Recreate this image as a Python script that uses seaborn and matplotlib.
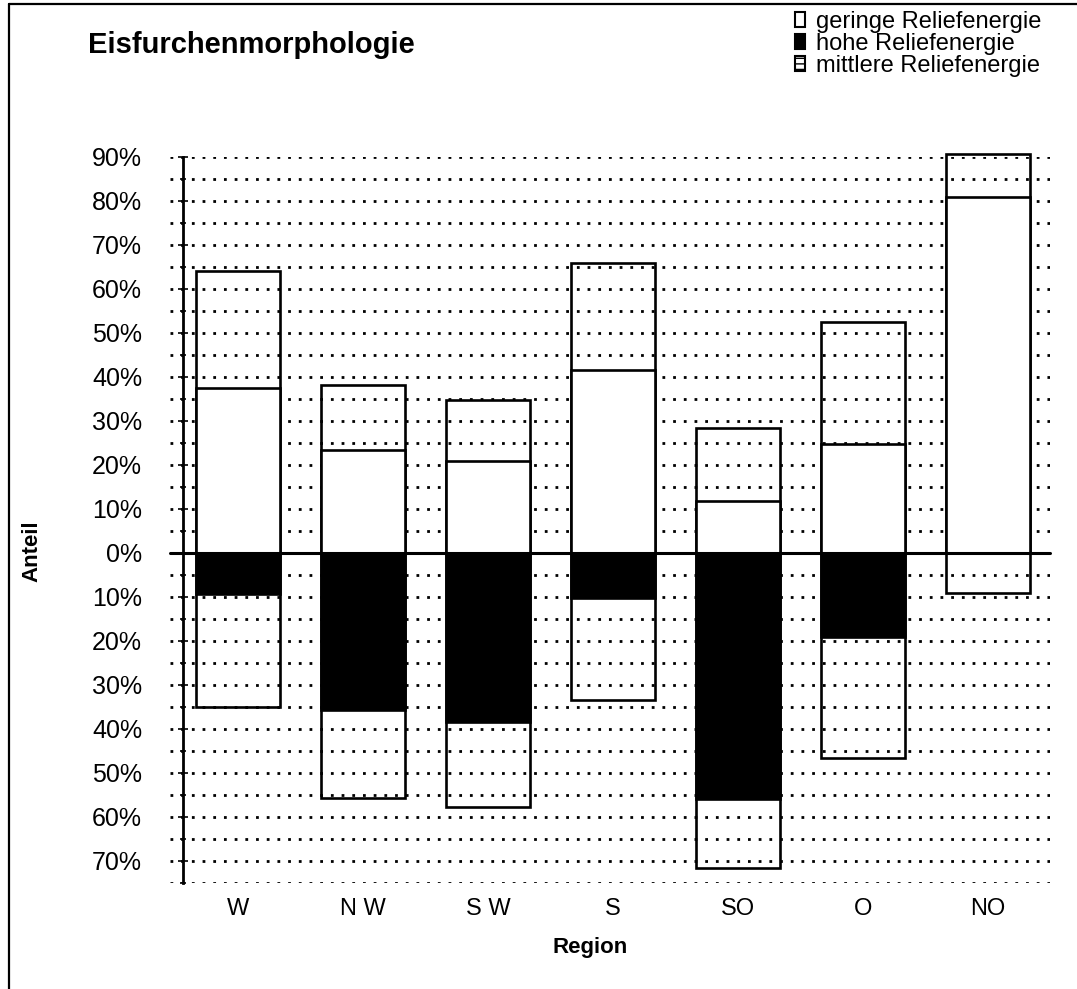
import numpy as np
import pandas as pd
import matplotlib
matplotlib.use("Agg")
import matplotlib.pyplot as plt
import seaborn as sns
from matplotlib.patches import Patch
from matplotlib.lines import Line2D
from matplotlib.ticker import MultipleLocator, FuncFormatter

# Anteile je Region (in %)
regionen = ["W", "N W", "S W", "S", "SO", "O", "NO"]
geringe = [37.6, 23.5, 20.8, 41.5, 11.9, 24.7, 80.8]
hohe = [9.4, 35.6, 38.3, 10.3, 56.0, 19.2, 0.0]
# mittlere Reliefenergie: Anteil oberhalb bzw. unterhalb der Nulllinie
mittlere_oben = [26.6, 14.6, 13.9, 24.3, 16.4, 27.7, 9.8]
mittlere_unten = [25.5, 20.0, 19.5, 23.2, 15.5, 27.3, 9.0]

df = pd.DataFrame({"Region": regionen, "geringe": geringe, "hohe": hohe,
                   "m_oben": mittlere_oben, "m_unten": mittlere_unten})
df["oben"] = df["geringe"] + df["m_oben"]
df["unten"] = -(df["hohe"] + df["m_unten"])
df["hohe_neg"] = -df["hohe"]

sns.set_theme(style="white")
plt.rcParams["font.family"] = ["Liberation Sans", "DejaVu Sans"]
plt.rcParams["lines.scale_dashes"] = False
plt.rcParams["text.color"] = "black"
plt.rcParams["axes.labelcolor"] = "black"
plt.rcParams["xtick.color"] = "black"
plt.rcParams["ytick.color"] = "black"

W, H = 1077, 989
fig = plt.figure(figsize=(W / 100, H / 100), dpi=100)
fig.patch.set_facecolor("white")
ax = fig.add_axes([170 / W, (H - 883) / H, 880 / W, 726 / H])
ax.set_facecolor("white")

bar_w = 0.67
lw = 1.9
# Umrisse der Gesamtbalken (mittlere Reliefenergie ohne Füllung)
sns.barplot(data=df, x="Region", y="oben", color="black", fill=False,
            width=bar_w, linewidth=lw, ax=ax)
sns.barplot(data=df, x="Region", y="unten", color="black", fill=False,
            width=bar_w, linewidth=lw, ax=ax)
# geringe (weiß) und hohe (schwarz) Reliefenergie
sns.barplot(data=df, x="Region", y="geringe", color="white", edgecolor="black",
            saturation=1, width=bar_w, linewidth=lw, ax=ax)
sns.barplot(data=df, x="Region", y="hohe_neg", color="black", edgecolor="black",
            saturation=1, width=bar_w, linewidth=lw, ax=ax)
for p in ax.patches:
    p.set_clip_on(False)

ax.set_xlim(-0.544, 6.496)
ax.set_ylim(-75, 90)
ax.axhline(0, color="black", lw=2.2, zorder=5, clip_on=False)

# gepunktete Gitterlinien alle 5 %
ax.yaxis.set_major_locator(MultipleLocator(10))
ax.yaxis.set_minor_locator(MultipleLocator(5))
ax.set_axisbelow(True)
ax.grid(axis="y", which="both", color="black", linewidth=2.0,
        linestyle=(0, (2.0, 5.7)))
ax.grid(axis="x", visible=False)

ax.yaxis.set_major_formatter(FuncFormatter(lambda v, _: f"{abs(v):.0f}%"))

for s in ["top", "right", "bottom"]:
    ax.spines[s].set_visible(False)
ax.spines["left"].set_position(("data", -0.44))
ax.spines["left"].set_color("black")
ax.spines["left"].set_linewidth(2.0)

ax.tick_params(axis="y", which="both", direction="inout", left=True,
               color="black", width=1.2, labelsize=18, pad=26, labelcolor="black")
ax.tick_params(axis="y", which="major", length=7)
ax.tick_params(axis="y", which="minor", length=5)
ax.tick_params(axis="x", bottom=False, labelsize=17, pad=5, labelcolor="black")

ax.set_xlabel("")
ax.set_ylabel("")
fig.text(590 / W, 1 - 948 / H, "Region", ha="center", va="center",
         fontsize=16, fontweight="bold", color="black")
fig.text(32 / W, 1 - 551 / H, "Anteil", ha="center", va="center",
         rotation=90, fontsize=16, fontweight="bold", color="black")
fig.text(88 / W, 1 - 45 / H, "Eisfurchenmorphologie", ha="left", va="center",
         fontsize=21, fontweight="bold", color="black")

handles = [
    Patch(facecolor="white", edgecolor="black", linewidth=1.5),
    Patch(facecolor="black", edgecolor="black", linewidth=1.5),
    Patch(facecolor="white", edgecolor="black", linewidth=1.5, hatch="---"),
]
labels = ["geringe Reliefenergie", "hohe Reliefenergie", "mittlere Reliefenergie"]
leg = fig.legend(handles, labels, loc="upper left", bbox_to_anchor=(783 / W, 1 + 1 / H),
                 frameon=False, fontsize=17, handlelength=0.45, handleheight=0.6,
                 handletextpad=0.45, labelspacing=0.0, borderpad=0.0)
for t in leg.get_texts():
    t.set_color("black")

# Rahmen links und oben
fig.add_artist(Line2D([9 / W, 9 / W], [0, 1 - 4 / H], color="black", lw=1.6))
fig.add_artist(Line2D([9 / W, 1], [1 - 4 / H, 1 - 4 / H], color="black", lw=1.6))

fig.savefig("out.png", dpi=100, facecolor="white")
